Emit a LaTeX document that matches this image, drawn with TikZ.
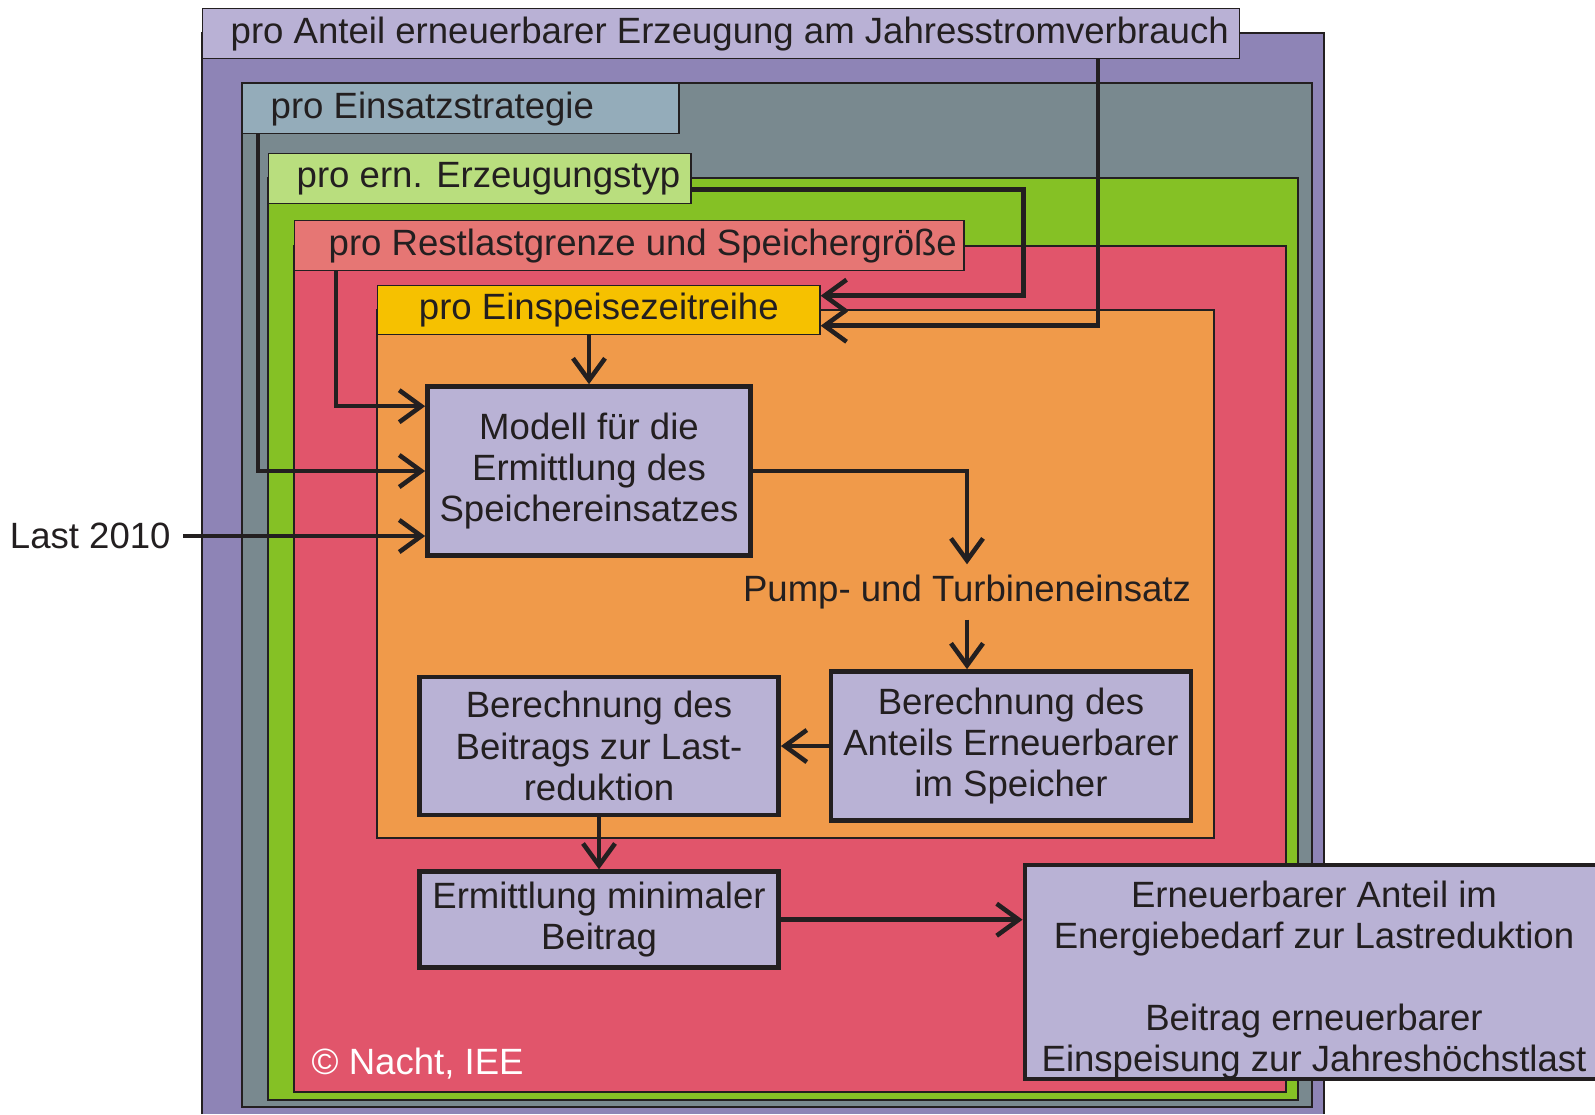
\documentclass[tikz,border=0pt]{standalone}
\usepackage{fontspec}
\setmainfont{Liberation Sans}
\usetikzlibrary{arrows.meta, positioning}

\definecolor{txtcol}{RGB}{35,31,32}
\definecolor{lavBg}{RGB}{142,132,182}
\definecolor{lavTag}{RGB}{185,177,213}
\definecolor{slateBg}{RGB}{121,137,143}
\definecolor{slateTag}{RGB}{148,172,186}
\definecolor{greenBg}{RGB}{133,193,37}
\definecolor{greenTag}{RGB}{185,222,126}
\definecolor{redBg}{RGB}{225,85,107}
\definecolor{redTag}{RGB}{230,118,116}
\definecolor{orangeBg}{RGB}{240,154,74}
\definecolor{orangeTag}{RGB}{246,193,0}
\definecolor{procfill}{RGB}{185,178,213}

\begin{document}
\begin{tikzpicture}[
  x=0.01cm, y=-0.01cm,
  font=\fontsize{10.4}{11.7}\selectfont,
  every node/.style={text=txtcol},
  frame/.style={draw=txtcol, line width=0.4pt},
  tag/.style 2 args={frame, anchor=north west, minimum height=5mm, inner ysep=0pt, inner xsep=0pt,
    text width=#1, align=flush left, execute at begin node=\hspace*{#2}},
  proc/.style={draw=txtcol, line width=1.3pt, fill=procfill, align=center, inner sep=0pt},
  line/.style={-{Straight Barb[length=2.2mm, width=3.2mm]}, line width=1.3pt, draw=txtcol},
  node distance=5.2mm
]
\useasboundingbox (0,0) rectangle (1595,1114);

% nested frames
\filldraw[frame, fill=lavBg] (202,1114) -- (202,33) -- (1324,33) -- (1324,1114);
\filldraw[frame, fill=slateBg] (242,83) rectangle (1312,1107);
\filldraw[frame, fill=greenBg] (268,178) rectangle (1298,1100);
\filldraw[frame, fill=redBg] (294,246) rectangle (1286,1092);
\filldraw[frame, fill=orangeBg] (377,310) rectangle (1214,838);

% frame tags
\node[tag={10.36cm}{2.8mm}, fill=lavTag] (lAnteil) at (202,8) {pro Anteil erneuerbarer Erzeugung am Jahresstromverbrauch};
\node[tag={4.36cm}{2.8mm}, fill=slateTag] (lEinsatz) at (242,83) {pro Einsatzstrategie};
\node[tag={4.22cm}{2.8mm}, fill=greenTag] (lTyp) at (268,153) {pro ern. Erzeugungstyp};
\node[tag={6.69cm}{3.4mm}, fill=redTag] (lRest) at (294,220) {pro Restlastgrenze und Speichergröße};
\node[frame, fill=orangeTag, anchor=north west, inner sep=0pt, minimum width=4.42cm, minimum height=4.9mm] (lSpeise) at (377,285) {pro Einspeisezeitreihe};

% process blocks
\node[proc, minimum width=3.23cm, minimum height=1.69cm] (modell) at (589,471) {Modell für die\\Ermittlung des\\Speichereinsatzes};
\node[minimum height=5.4mm, inner sep=0pt] (pump) at (967,592) {Pump- und Turbineneinsatz};
\node[proc, minimum width=3.6cm, minimum height=1.49cm] (anteil) at (1011,746) {Berechnung des\\Anteils Erneuerbarer\\im Speicher};
\node[proc, minimum width=3.59cm, minimum height=1.38cm] (beitrag) at (599,746) {Berechnung des\\Beitrags zur Last-\\reduktion};
\node[proc, minimum width=3.59cm, minimum height=0.96cm, below=of beitrag] (ermittl) {Ermittlung minimaler\\Beitrag};
\node[proc, minimum width=5.78cm, minimum height=2.11cm] (result) at (1314,972) {\rule{0pt}{4.2mm}Erneuerbarer Anteil im\\Energiebedarf zur Lastreduktion\\[11.6pt]Beitrag erneuerbarer\\Einspeisung zur Jahreshöchstlast};

\node[anchor=east] (last) at (183,536) {Last 2010};
\node[anchor=west, inner sep=0pt, text=white] (copy) at (311,1064) {© Nacht, IEE};

% inputs
\draw[line] (lSpeise.south -| modell.north) -- (modell.north);
\draw[line] ([xshift=4.2mm]lRest.south west) |- ([yshift=-2.2mm]modell.north west);
\draw[line] ([xshift=1.6mm]lEinsatz.south west) |- (modell.west);
\draw[line] (last) -- (last -| modell.west);
\draw[line] ([yshift=-1.1mm]lTyp.east) -- ++(332,0) |- ([yshift=1.45mm]lSpeise.east);
\draw[line] ([xshift=-14.2mm]lAnteil.south east) |- ([yshift=-1.55mm]lSpeise.east);

% flow
\draw[line] (modell.east) -| (pump.north);
\draw[line] (pump.south) -- (pump.south |- anteil.north);
\draw[line] (anteil.west) -- (beitrag.east);
\draw[line] (beitrag) -- (ermittl);
\draw[line] (ermittl.east) -- (ermittl.east -| result.west);
\end{tikzpicture}
\end{document}
